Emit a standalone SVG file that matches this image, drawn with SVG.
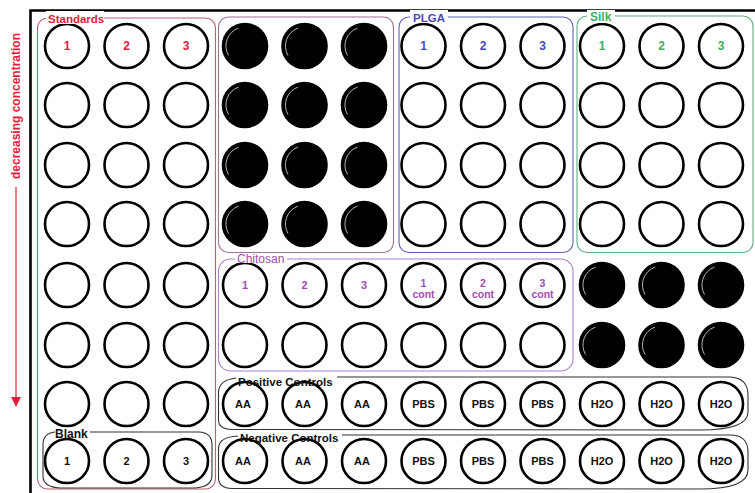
<svg xmlns="http://www.w3.org/2000/svg" xmlns:xlink="http://www.w3.org/1999/xlink" width="755" height="493" viewBox="0 0 755 493">
<style>
.well{fill:#fff;stroke:#000;stroke-width:2.6}
.fw{fill:#000;stroke:#000;stroke-width:2.6}
.hl{fill:none;stroke:#c8c8c8;stroke-width:0.9}
.t{font-family:"Liberation Sans",Arial,sans-serif;font-weight:bold;font-size:11px;text-anchor:middle}
.n{font-size:12px}
.s{font-size:10.5px}
.red{fill:#e0203c}
.blue{fill:#4848c0}
.green{fill:#3fae5e}
.purp{fill:#a24cb4}
.blk{fill:#111}
.box{fill:none;stroke-width:1.1}
.glbl{font-family:"Liberation Sans",Arial,sans-serif;font-weight:bold}
.bg{fill:#fff}
</style>
<defs>
<g id="filledWell"><circle class="fw" r="22"/><path class="hl" d="M-6.5,-17.9 A19,19 0 0 0 -16.5,9.5"/></g>
<marker id="arrowRed" viewBox="0 0 10 10" refX="9" refY="5" markerWidth="10" markerHeight="12" orient="auto" markerUnits="userSpaceOnUse"><path d="M0,0 L10,5 L0,10 z" fill="#e0203c"/></marker>
</defs>
<rect width="755" height="493" fill="#fff"/>
<g id="plate"><path d="M30.5,493 L30.5,10.5 L755,10.5" fill="none" stroke="#000" stroke-width="2.6"/></g>
<g id="direction">
<text transform="translate(20,106) rotate(-90)" class="glbl" font-size="12" text-anchor="middle" fill="#e0203c">decreasing concentration</text>
<line x1="16" y1="187" x2="16" y2="406" stroke="#e0203c" stroke-width="1.2" marker-end="url(#arrowRed)"/>
</g>
<g id="groups">
<g id="g-standards"><rect class="box" x="37.5" y="18" width="178" height="471" rx="10" stroke="#c06070"/></g>
<g id="g-filled"><rect class="box" x="218.5" y="17" width="175" height="235.5" rx="10" stroke="#a07090"/></g>
<g id="g-plga"><rect class="box" x="399" y="17" width="174" height="235.5" rx="10" stroke="#6060b8"/></g>
<g id="g-silk"><rect class="box" x="577" y="16" width="176" height="236.5" rx="10" stroke="#60b080"/></g>
<g id="g-chitosan"><rect class="box" x="218.5" y="259" width="354.5" height="112" rx="12" stroke="#b080c8"/></g>
<g id="g-positive"><path class="box" stroke="#333" d="M236,378 Q219,380 218.5,392 L218.5,420 Q218.5,429 232,429.5 L700,430 Q748,430 748,412 L748,395 Q748,378 730,377 L337,377"/></g>
<g id="g-negative"><path class="box" stroke="#333" d="M238,436 Q219,437 218.5,448 L218.5,478 Q218.5,488 232,488.5 L700,489 Q748,489 748,470 L748,452 Q748,435 730,435 L342,435"/></g>
<g id="g-blank"><path class="box" stroke="#333" d="M55,432 Q43,433 43,445 L43,476 Q43,487 60,488 L195,488 Q212,487 212,475 L212,445 Q212,433 200,432 L90,432"/></g>
</g>
<g id="connectors"></g>
<g id="wells">
<g id="A1"><circle class="well" cx="67" cy="46" r="22"/><text class="t n red" x="67" y="50">1</text></g>
<g id="A2"><circle class="well" cx="126.5" cy="46" r="22"/><text class="t n red" x="126.5" y="50">2</text></g>
<g id="A3"><circle class="well" cx="186" cy="46" r="22"/><text class="t n red" x="186" y="50">3</text></g>
<g id="A4"><use href="#filledWell" x="245" y="46"/></g>
<g id="A5"><use href="#filledWell" x="304.5" y="46"/></g>
<g id="A6"><use href="#filledWell" x="364" y="46"/></g>
<g id="A7"><circle class="well" cx="423.5" cy="46" r="22"/><text class="t n blue" x="423.5" y="50">1</text></g>
<g id="A8"><circle class="well" cx="483" cy="46" r="22"/><text class="t n blue" x="483" y="50">2</text></g>
<g id="A9"><circle class="well" cx="542.5" cy="46" r="22"/><text class="t n blue" x="542.5" y="50">3</text></g>
<g id="A10"><circle class="well" cx="602" cy="46" r="22"/><text class="t n green" x="602" y="50">1</text></g>
<g id="A11"><circle class="well" cx="661.5" cy="46" r="22"/><text class="t n green" x="661.5" y="50">2</text></g>
<g id="A12"><circle class="well" cx="721" cy="46" r="22"/><text class="t n green" x="721" y="50">3</text></g>

<g id="B1"><circle class="well" cx="67" cy="105" r="22"/></g>
<g id="B2"><circle class="well" cx="126.5" cy="105" r="22"/></g>
<g id="B3"><circle class="well" cx="186" cy="105" r="22"/></g>
<g id="B4"><use href="#filledWell" x="245" y="105"/></g>
<g id="B5"><use href="#filledWell" x="304.5" y="105"/></g>
<g id="B6"><use href="#filledWell" x="364" y="105"/></g>
<g id="B7"><circle class="well" cx="423.5" cy="105" r="22"/></g>
<g id="B8"><circle class="well" cx="483" cy="105" r="22"/></g>
<g id="B9"><circle class="well" cx="542.5" cy="105" r="22"/></g>
<g id="B10"><circle class="well" cx="602" cy="105" r="22"/></g>
<g id="B11"><circle class="well" cx="661.5" cy="105" r="22"/></g>
<g id="B12"><circle class="well" cx="721" cy="105" r="22"/></g>

<g id="C1"><circle class="well" cx="67" cy="165" r="22"/></g>
<g id="C2"><circle class="well" cx="126.5" cy="165" r="22"/></g>
<g id="C3"><circle class="well" cx="186" cy="165" r="22"/></g>
<g id="C4"><use href="#filledWell" x="245" y="165"/></g>
<g id="C5"><use href="#filledWell" x="304.5" y="165"/></g>
<g id="C6"><use href="#filledWell" x="364" y="165"/></g>
<g id="C7"><circle class="well" cx="423.5" cy="165" r="22"/></g>
<g id="C8"><circle class="well" cx="483" cy="165" r="22"/></g>
<g id="C9"><circle class="well" cx="542.5" cy="165" r="22"/></g>
<g id="C10"><circle class="well" cx="602" cy="165" r="22"/></g>
<g id="C11"><circle class="well" cx="661.5" cy="165" r="22"/></g>
<g id="C12"><circle class="well" cx="721" cy="165" r="22"/></g>

<g id="D1"><circle class="well" cx="67" cy="224" r="22"/></g>
<g id="D2"><circle class="well" cx="126.5" cy="224" r="22"/></g>
<g id="D3"><circle class="well" cx="186" cy="224" r="22"/></g>
<g id="D4"><use href="#filledWell" x="245" y="224"/></g>
<g id="D5"><use href="#filledWell" x="304.5" y="224"/></g>
<g id="D6"><use href="#filledWell" x="364" y="224"/></g>
<g id="D7"><circle class="well" cx="423.5" cy="224" r="22"/></g>
<g id="D8"><circle class="well" cx="483" cy="224" r="22"/></g>
<g id="D9"><circle class="well" cx="542.5" cy="224" r="22"/></g>
<g id="D10"><circle class="well" cx="602" cy="224" r="22"/></g>
<g id="D11"><circle class="well" cx="661.5" cy="224" r="22"/></g>
<g id="D12"><circle class="well" cx="721" cy="224" r="22"/></g>

<g id="E1"><circle class="well" cx="67" cy="285" r="22"/></g>
<g id="E2"><circle class="well" cx="126.5" cy="285" r="22"/></g>
<g id="E3"><circle class="well" cx="186" cy="285" r="22"/></g>
<g id="E4"><circle class="well" cx="245" cy="285" r="22"/><text class="t purp" x="245" y="289">1</text></g>
<g id="E5"><circle class="well" cx="304.5" cy="285" r="22"/><text class="t purp" x="304.5" y="289">2</text></g>
<g id="E6"><circle class="well" cx="364" cy="285" r="22"/><text class="t purp" x="364" y="289">3</text></g>
<g id="E7"><circle class="well" cx="423.5" cy="285" r="22"/><text class="t s purp" x="423.5" y="286.5">1</text><text class="t s purp" x="423.5" y="298">cont</text></g>
<g id="E8"><circle class="well" cx="483" cy="285" r="22"/><text class="t s purp" x="483" y="286.5">2</text><text class="t s purp" x="483" y="298">cont</text></g>
<g id="E9"><circle class="well" cx="542.5" cy="285" r="22"/><text class="t s purp" x="542.5" y="286.5">3</text><text class="t s purp" x="542.5" y="298">cont</text></g>
<g id="E10"><use href="#filledWell" x="602" y="285"/></g>
<g id="E11"><use href="#filledWell" x="661.5" y="285"/></g>
<g id="E12"><use href="#filledWell" x="721" y="285"/></g>

<g id="F1"><circle class="well" cx="67" cy="345" r="22"/></g>
<g id="F2"><circle class="well" cx="126.5" cy="345" r="22"/></g>
<g id="F3"><circle class="well" cx="186" cy="345" r="22"/></g>
<g id="F4"><circle class="well" cx="245" cy="345" r="22"/></g>
<g id="F5"><circle class="well" cx="304.5" cy="345" r="22"/></g>
<g id="F6"><circle class="well" cx="364" cy="345" r="22"/></g>
<g id="F7"><circle class="well" cx="423.5" cy="345" r="22"/></g>
<g id="F8"><circle class="well" cx="483" cy="345" r="22"/></g>
<g id="F9"><circle class="well" cx="542.5" cy="345" r="22"/></g>
<g id="F10"><use href="#filledWell" x="602" y="345"/></g>
<g id="F11"><use href="#filledWell" x="661.5" y="345"/></g>
<g id="F12"><use href="#filledWell" x="721" y="345"/></g>

<g id="G1"><circle class="well" cx="67" cy="404" r="22"/></g>
<g id="G2"><circle class="well" cx="126.5" cy="404" r="22"/></g>
<g id="G3"><circle class="well" cx="186" cy="404" r="22"/></g>
<g id="G4"><circle class="well" cx="245" cy="404" r="22"/><text class="t blk" x="243" y="408">AA</text></g>
<g id="G5"><circle class="well" cx="304.5" cy="404" r="22"/><text class="t blk" x="303" y="408">AA</text></g>
<g id="G6"><circle class="well" cx="364" cy="404" r="22"/><text class="t blk" x="362" y="408">AA</text></g>
<g id="G7"><circle class="well" cx="423.5" cy="404" r="22"/><text class="t blk" x="423.5" y="408">PBS</text></g>
<g id="G8"><circle class="well" cx="483" cy="404" r="22"/><text class="t blk" x="483" y="408">PBS</text></g>
<g id="G9"><circle class="well" cx="542.5" cy="404" r="22"/><text class="t blk" x="542.5" y="408">PBS</text></g>
<g id="G10"><circle class="well" cx="602" cy="404" r="22"/><text class="t blk" x="602" y="408">H2O</text></g>
<g id="G11"><circle class="well" cx="661.5" cy="404" r="22"/><text class="t blk" x="661.5" y="408">H2O</text></g>
<g id="G12"><circle class="well" cx="721" cy="404" r="22"/><text class="t blk" x="721" y="408">H2O</text></g>

<g id="H1"><circle class="well" cx="67" cy="461" r="22"/><text class="t blk" x="67" y="465">1</text></g>
<g id="H2"><circle class="well" cx="126.5" cy="461" r="22"/><text class="t blk" x="126.5" y="465">2</text></g>
<g id="H3"><circle class="well" cx="186" cy="461" r="22"/><text class="t blk" x="186" y="465">3</text></g>
<g id="H4"><circle class="well" cx="245" cy="461" r="22"/><text class="t blk" x="243" y="465">AA</text></g>
<g id="H5"><circle class="well" cx="304.5" cy="461" r="22"/><text class="t blk" x="303" y="465">AA</text></g>
<g id="H6"><circle class="well" cx="364" cy="461" r="22"/><text class="t blk" x="362" y="465">AA</text></g>
<g id="H7"><circle class="well" cx="423.5" cy="461" r="22"/><text class="t blk" x="423.5" y="465">PBS</text></g>
<g id="H8"><circle class="well" cx="483" cy="461" r="22"/><text class="t blk" x="483" y="465">PBS</text></g>
<g id="H9"><circle class="well" cx="542.5" cy="461" r="22"/><text class="t blk" x="542.5" y="465">PBS</text></g>
<g id="H10"><circle class="well" cx="602" cy="461" r="22"/><text class="t blk" x="602" y="465">H2O</text></g>
<g id="H11"><circle class="well" cx="661.5" cy="461" r="22"/><text class="t blk" x="661.5" y="465">H2O</text></g>
<g id="H12"><circle class="well" cx="721" cy="461" r="22"/><text class="t blk" x="721" y="465">H2O</text></g>
</g>
<g id="group-labels">
<g id="lbl-standards"><rect class="bg" x="46" y="11" width="58" height="13"/><text class="glbl red" x="48" y="22.5" font-size="11.5">Standards</text></g>
<g id="lbl-plga"><rect class="bg" x="410" y="10" width="38" height="13"/><text class="glbl blue" x="413" y="22" font-size="11.5">PLGA</text></g>
<g id="lbl-silk"><rect class="bg" x="587" y="10" width="28" height="13"/><text class="glbl green" x="590" y="21" font-size="12">Silk</text></g>
<g id="lbl-chitosan"><rect class="bg" x="235" y="253" width="52" height="10"/><text x="237" y="263" font-family="Liberation Sans,Arial,sans-serif" font-size="12" fill="#a24cb4">Chitosan</text></g>
<g id="lbl-positive"><text class="glbl blk" x="238" y="386" font-size="11.5">Positive Controls</text></g>
<g id="lbl-negative"><text class="glbl blk" x="240" y="442" font-size="11.5">Negative Controls</text></g>
<g id="lbl-blank"><text class="glbl blk" x="55" y="438" font-size="12">Blank</text></g>
</g>
</svg>
